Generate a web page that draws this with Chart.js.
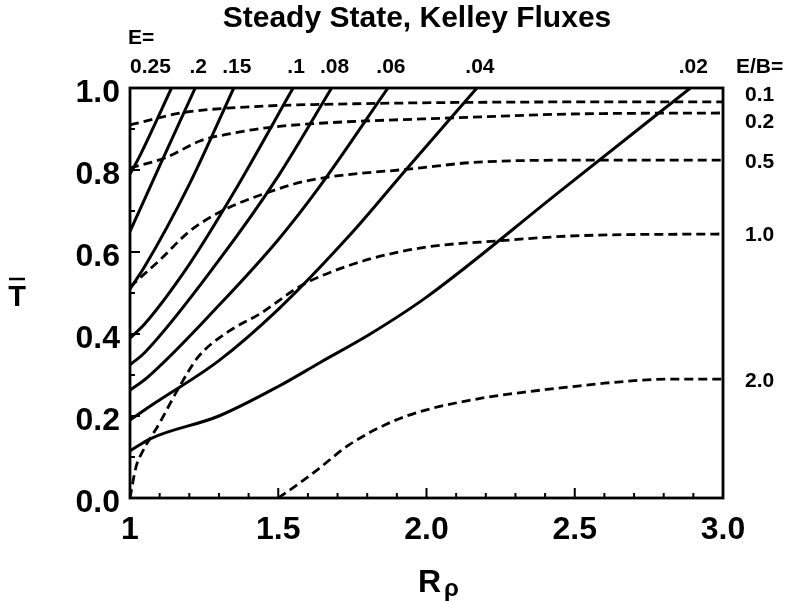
<!DOCTYPE html>
<html>
<head>
<meta charset="utf-8">
<script src="https://cdn.jsdelivr.net/npm/chart.js@4/dist/chart.umd.min.js"></script>
<style>
  html, body { margin: 0; padding: 0; background: #fff; }
  #wrap { width: 800px; height: 601px; }
</style>
</head>
<body>
<div id="wrap"><canvas id="chart" width="800" height="601"></canvas></div>
<script>
// Solid curves, one per E value (x = R_rho, y = T bar)
const eLabels = ['0.25', '.2', '.15', '.1', '.08', '.06', '.04', '.02'];
const e025 = [[1, 0.79], [1.03, 0.83], [1.14, 1.0]];
const e020 = [[1, 0.65], [1.1, 0.81], [1.22, 1.0]];
const e015 = [[1, 0.51], [1.05, 0.565], [1.2, 0.765], [1.35, 1.0]];
const e010 = [[1, 0.39], [1.05, 0.425], [1.2, 0.57], [1.35, 0.745], [1.55, 1.0]];
const e008 = [[1, 0.325], [1.05, 0.355], [1.3, 0.58], [1.5, 0.785], [1.68, 1.0]];
const e006 = [[1, 0.263], [1.06, 0.295], [1.3, 0.47], [1.5, 0.63], [1.64, 0.76], [1.87, 1.0]];
const e004 = [[1, 0.19], [1.07, 0.225], [1.3, 0.335], [1.5, 0.46], [1.74, 0.64], [1.93, 0.8], [2.17, 1.0]];
const e002 = [[1, 0.115], [1.07, 0.145], [1.3, 0.2], [1.5, 0.272], [1.64, 0.33], [1.81, 0.40],
              [2.0, 0.49], [2.45, 0.748], [2.89, 1.0]];
const eCurves = [e025, e020, e015, e010, e008, e006, e004, e002];

// Dashed curves, one per E/B value
const ebLabels = ['0.1', '0.2', '0.5', '1.0', '2.0'];
const eb01 = [[1, 0.91], [1.04, 0.917], [1.18, 0.94], [1.46, 0.956], [1.64, 0.96], [2.52, 0.966], [3.0, 0.966]];
const eb02 = [[1, 0.805], [1.12, 0.83], [1.24, 0.872], [1.35, 0.89], [1.46, 0.903], [1.64, 0.914],
              [2.09, 0.927], [2.52, 0.937], [3.0, 0.939]];
const eb05 = [[1, 0.515], [1.1, 0.58], [1.2, 0.65], [1.31, 0.70], [1.46, 0.744], [1.6, 0.774],
              [1.98, 0.805], [2.15, 0.818], [2.52, 0.824], [3.0, 0.824]];
const eb10 = [[1, 0.0], [1.02, 0.075], [1.04, 0.11], [1.1, 0.183], [1.16, 0.263], [1.23, 0.344], [1.33, 0.405],
              [1.44, 0.45], [1.57, 0.515], [1.64, 0.54], [1.81, 0.583], [2.0, 0.612], [2.24, 0.627],
              [2.52, 0.64], [3.0, 0.644]];
const eb20 = [[1.5, 0.0], [1.56, 0.03], [1.625, 0.065], [1.74, 0.13], [1.88, 0.185], [2.0, 0.215],
              [2.19, 0.244], [2.35, 0.26], [2.51, 0.273], [2.6, 0.28], [2.82, 0.29], [3.0, 0.29]];
const ebCurves = [eb01, eb02, eb05, eb10, eb20];

const xMajor = [1, 1.5, 2.0, 2.5, 3.0];
const yMajor = [0, 0.2, 0.4, 0.6, 0.8, 1.0];

const FONT = '"Liberation Sans", Arial, sans-serif';

const toPts = arr => arr.map(([x, y]) => ({ x, y }));

const datasets = [
    ...eCurves.map((c, i) => ({
        label: 'E=' + eLabels[i],
        data: toPts(c),
        borderColor: '#000',
        borderWidth: 3,
        showLine: true,
        pointRadius: 0,
        cubicInterpolationMode: 'monotone'
    })),
    ...ebCurves.map((c, i) => ({
        label: 'E/B=' + ebLabels[i],
        data: toPts(c),
        borderColor: '#000',
        borderWidth: 2.8,
        borderDash: [9, 5],
        showLine: true,
        pointRadius: 0,
        cubicInterpolationMode: 'monotone'
    }))
];

// frame, inward ticks and all the annotation text
const decor = {
    id: 'decor',
    afterDraw(chart) {
        const { ctx, chartArea: a, scales: { x, y } } = chart;
        ctx.save();
        ctx.strokeStyle = '#000';
        ctx.fillStyle = '#000';
        ctx.lineWidth = 2.8;
        ctx.strokeRect(a.left, a.top, a.right - a.left, a.bottom - a.top);

        ctx.lineWidth = 2;
        ctx.beginPath();
        for (let i = 0; i <= 20; i++) {
            const px = x.getPixelForValue(1 + i * 0.1);
            const len = i % 5 === 0 ? 10 : 5;
            ctx.moveTo(px, a.bottom);
            ctx.lineTo(px, a.bottom - len);
        }
        for (let i = 0; i <= 10; i++) {
            const py = y.getPixelForValue(i * 0.1);
            const len = i % 2 === 0 ? 10 : 5;
            ctx.moveTo(a.left, py);
            ctx.lineTo(a.left + len, py);
        }
        ctx.stroke();

        // title
        ctx.font = 'bold 30px ' + FONT;
        ctx.textAlign = 'center';
        ctx.textBaseline = 'middle';
        ctx.fillText('Steady State, Kelley Fluxes', 417, 19);

        // E labels along the top
        ctx.font = 'bold 21px ' + FONT;
        ctx.textBaseline = 'alphabetic';
        ctx.textAlign = 'left';
        ctx.fillText('E=', 128, 44);
        eCurves.forEach((c, i) => {
            const last = c[c.length - 1];
            if (i === 0) {
                ctx.textAlign = 'left';
                ctx.fillText(eLabels[i], a.left, 73);
            } else {
                ctx.textAlign = 'center';
                ctx.fillText(eLabels[i], x.getPixelForValue(last[0]) + 3, 73);
            }
        });
        ctx.textAlign = 'left';
        ctx.fillText('E/B=', 736, 73);

        // E/B labels on the right
        ctx.textBaseline = 'middle';
        const nudge = [-7, 9, 2, 1, 2];
        ebCurves.forEach((c, i) => {
            const last = c[c.length - 1];
            ctx.fillText(ebLabels[i], 745, y.getPixelForValue(last[1]) + nudge[i]);
        });

        // y axis title: T with overbar
        ctx.font = 'bold 29px ' + FONT;
        ctx.textAlign = 'center';
        ctx.fillText('T', 17, 298);
        ctx.lineWidth = 2.5;
        ctx.beginPath();
        ctx.moveTo(9, 279);
        ctx.lineTo(25, 279);
        ctx.stroke();

        // x axis title: R rho
        ctx.textBaseline = 'alphabetic';
        ctx.font = 'bold 32px ' + FONT;
        ctx.textAlign = 'right';
        ctx.fillText('R', 441, 592);
        ctx.font = 'bold 24px ' + FONT;
        ctx.textAlign = 'left';
        ctx.fillText('\u03c1', 444, 596);
        ctx.restore();
    }
};

new Chart(document.getElementById('chart').getContext('2d'), {
    type: 'scatter',
    data: { datasets },
    options: {
        responsive: false,
        animation: false,
        layout: { padding: { top: 88, right: 77, left: 0, bottom: 0 } },
        plugins: {
            legend: { display: false },
            tooltip: { enabled: false }
        },
        scales: {
            x: {
                type: 'linear',
                min: 1,
                max: 3,
                afterFit: s => { s.height = 103; },
                afterBuildTicks: s => { s.ticks = xMajor.map(v => ({ value: v })); },
                ticks: {
                    callback: v => (v === 1 ? '1' : v.toFixed(1)),
                    font: { size: 32, family: FONT, weight: 'bold' },
                    color: '#000',
                    padding: 13,
                    maxRotation: 0
                },
                grid: { display: false, drawTicks: false },
                border: { display: false }
            },
            y: {
                type: 'linear',
                min: 0,
                max: 1,
                afterFit: s => { s.width = 130; },
                afterBuildTicks: s => { s.ticks = yMajor.map(v => ({ value: v })); },
                ticks: {
                    callback: v => v.toFixed(1),
                    font: { size: 32, family: FONT, weight: 'bold' },
                    color: '#000',
                    padding: 10,
                    labelOffset: 5
                },
                grid: { display: false, drawTicks: false },
                border: { display: false }
            }
        }
    },
    plugins: [decor]
});
</script>
</body>
</html>
